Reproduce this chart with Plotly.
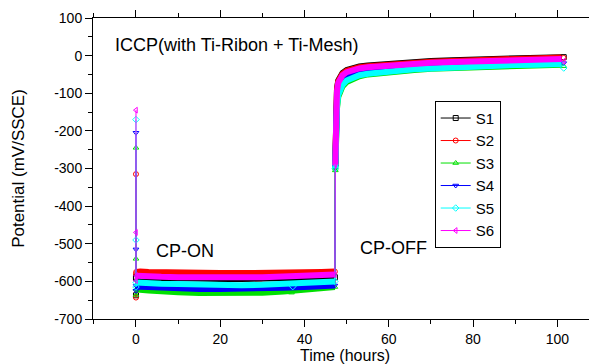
import plotly.graph_objects as go

# ---------------- data ----------------
names = ["S1", "S2", "S3", "S4", "S5", "S6"]
colors = ["#000000", "#FF0000", "#00E000", "#0000FF", "#00FFFF", "#FF00FF"]
symbols = ["square-open", "circle-open", "triangle-up-open",
           "triangle-down-open", "diamond-open", "triangle-left-open"]

# CP-ON period (hours)
t_on = [0.05, 0.3, 1, 3, 6, 10, 15, 20, 25, 30, 35, 40, 44, 47.2]
on_S1 = [-588, -589, -590, -591, -592, -593, -594, -594, -594, -593, -592, -591, -590, -589]
on_S2 = [-575, -574, -574, -575, -576, -577, -578, -578, -578, -578, -577, -576, -575, -574]
on_S3 = [-620, -621, -622, -624, -627, -629, -631, -632, -632, -630, -627, -622, -618, -615]
on_S4 = [-612, -613, -614, -615, -617, -618, -620, -620, -620, -619, -617, -615, -613, -611]
on_S5 = [-603, -603, -604, -605, -606, -607, -609, -610, -610, -609, -607, -604, -602, -600]
on_S6 = [-585, -585, -586, -587, -588, -589, -590, -590, -590, -589, -587, -585, -583, -582]

# CP-OFF period (hours)
t_off = [47.3, 47.4, 47.5, 47.7, 48, 48.5, 49, 50, 51.5, 53, 55, 58, 62, 66, 70, 75, 80, 85, 90, 95, 101]
off_S1 = [-282, -190, -130, -88, -66, -54, -46, -38, -33, -29, -26, -23, -19, -16, -14, -12, -10, -8, -6, -5, -4]
off_S2 = [-285, -195, -135, -90, -68, -56, -48, -40, -35, -31, -28, -25, -21, -18, -16, -14, -12, -10, -8, -6, -5]
off_S3 = [-305, -235, -185, -140, -110, -92, -82, -70, -61, -55, -50, -46, -41, -38, -35, -33, -31, -29, -27, -26, -24]
off_S4 = [-295, -215, -160, -115, -90, -75, -66, -56, -49, -44, -40, -36, -32, -29, -27, -25, -23, -22, -20, -19, -17]
off_S5 = [-300, -230, -180, -135, -105, -88, -78, -66, -58, -52, -48, -44, -39, -36, -34, -31, -29, -27, -25, -24, -22]
off_S6 = [-290, -200, -140, -95, -72, -60, -52, -44, -38, -34, -31, -28, -24, -21, -19, -17, -15, -14, -12, -11, -9]

# values recorded at t = 0 (open circuit, then first readings)
t_start = [0, 0, 0]
start_S1 = [-590, -637, -592]
start_S2 = [-315, -580, -643]
start_S3 = [-245, -540, -636]
start_S4 = [-205, -515, -625]
start_S5 = [-170, -490, -615]
start_S6 = [-145, -470, -598]

# final readings
t_end = 101.5
end_vals = [-4, -6, -28, -20, -33, -15]

# extra isolated readings
extra_t = [None, None, 36.9, None, 37.2, None]
extra_v = [None, None, -630, None, -614, None]

on_vals = [on_S1, on_S2, on_S3, on_S4, on_S5, on_S6]
off_vals = [off_S1, off_S2, off_S3, off_S4, off_S5, off_S6]
start_vals = [start_S1, start_S2, start_S3, start_S4, start_S5, start_S6]

x_ticks = [0, 20, 40, 60, 80, 100]
x_ticktext = ["0", "20", "40", "60", "80", "100"]
y_ticks = [100, 0, -100, -200, -300, -400, -500, -600, -700]
y_ticktext = ["100", "0", "-100", "-200", "-300", "-400", "-500", "-600", "-700"]

# ---------------- figure ----------------
FONT = "Arial, Liberation Sans, sans-serif"
fig = go.Figure()

for i, n in enumerate(names):
    # dense record band
    bx = t_on + [None] + t_off
    by = on_vals[i] + [None] + off_vals[i]
    fig.add_trace(go.Scatter(x=bx, y=by, mode="lines",
                             line=dict(color=colors[i], width=6),
                             showlegend=False, hoverinfo="skip",
                             legendgroup=n))
    # thin connecting line and markers
    tx = t_start + [t_on[0], None, t_on[-1], t_off[0], None, t_end]
    ty = start_vals[i] + [on_vals[i][0], None, on_vals[i][-1], off_vals[i][0], None, end_vals[i]]
    if extra_t[i] is not None:
        tx = tx + [None, extra_t[i]]
        ty = ty + [None, extra_v[i]]
    fig.add_trace(go.Scatter(x=tx, y=ty, mode="lines+markers", name=n,
                             line=dict(color=colors[i], width=1),
                             marker=dict(symbol=symbols[i], size=5,
                                         color=colors[i],
                                         line=dict(width=1, color=colors[i])),
                             legendgroup=n))

axis_common = dict(showline=True, linecolor="black", linewidth=1,
                   mirror="ticks", ticks="outside", ticklen=7,
                   tickcolor="black", tickwidth=1, showgrid=False,
                   zeroline=False, automargin=False,
                   tickfont=dict(family=FONT, size=14, color="black"))

fig.update_xaxes(range=[-10.2, 109.4], tickvals=x_ticks, ticktext=x_ticktext,
                 minor=dict(tickvals=[-10, 10, 30, 50, 70, 90], ticks="outside",
                            ticklen=4, tickcolor="black"),
                 title=dict(text="Time (hours)",
                            font=dict(family=FONT, size=16, color="black"),
                            standoff=5),
                 **axis_common)
fig.update_yaxes(range=[-700, 100], tickvals=y_ticks, ticktext=y_ticktext,
                 minor=dict(tickvals=[50, -50, -150, -250, -350, -450, -550, -650],
                            ticks="outside", ticklen=4, tickcolor="black"),
                 title=dict(text="Potential (mV/SSCE)",
                            font=dict(family=FONT, size=17, color="black"),
                            standoff=25),
                 **axis_common)

fig.add_annotation(text="ICCP(with Ti-Ribon + Ti-Mesh)", xref="paper", yref="paper",
                   x=0.04, y=0.91, xanchor="left", yanchor="middle", showarrow=False,
                   font=dict(family=FONT, size=18, color="black"))
fig.add_annotation(text="CP-ON", xref="x", yref="y", x=4.3, y=-518,
                   xanchor="left", yanchor="middle", showarrow=False,
                   font=dict(family=FONT, size=18, color="black"))
fig.add_annotation(text="CP-OFF", xref="x", yref="y", x=52.7, y=-510,
                   xanchor="left", yanchor="middle", showarrow=False,
                   font=dict(family=FONT, size=18, color="black"))

# the page places the figure 8 px in from the top-left corner
fig.update_layout(
    width=589, height=356,
    margin=dict(l=85, r=0, t=10, b=45),
    paper_bgcolor="white", plot_bgcolor="white",
    legend=dict(x=0.678, y=0.725, xanchor="left", yanchor="top",
                bgcolor="white", bordercolor="black", borderwidth=1,
                font=dict(family=FONT, size=15, color="black"),
                tracegroupgap=0),
)

fig.write_html("out.html")
